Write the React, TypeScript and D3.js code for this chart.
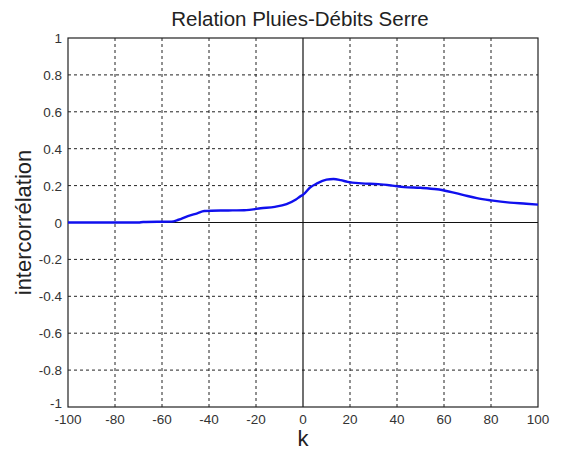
import React, { useRef, useEffect } from "react";
import * as d3 from "d3";

// lag values
const kValues = [-100, -70, -68, -56, -53, -49, -45, -42, -35, -25, -22, -18, -12, -7, -3, -1, 0, 3, 6, 10, 13, 16, 19, 25, 32, 38, 43, 50, 57, 62, 68, 74, 80, 88, 95, 100];
const corrValues = [0, 0, 0.003, 0.005, 0.015, 0.035, 0.05, 0.062, 0.065, 0.066, 0.07, 0.077, 0.085, 0.1, 0.125, 0.143, 0.15, 0.19, 0.212, 0.232, 0.236, 0.23, 0.22, 0.212, 0.208, 0.2, 0.192, 0.188, 0.18, 0.168, 0.15, 0.132, 0.12, 0.108, 0.102, 0.097];
const xTicks = [-100, -80, -60, -40, -20, 0, 20, 40, 60, 80, 100];
const yTicks = [-1, -0.8, -0.6, -0.4, -0.2, 0, 0.2, 0.4, 0.6, 0.8, 1];

const W = 565;
const H = 453;
const margin = { top: 38, right: 27, bottom: 46, left: 68 };

export default function App() {
  const svgRef = useRef<SVGSVGElement>(null);

  useEffect(() => {
    if (!svgRef.current) return;
    const svg = d3.select(svgRef.current);
    svg.selectAll("*").remove();

    const x = d3.scaleLinear().domain([-100, 100]).range([margin.left, W - margin.right]);
    const y = d3.scaleLinear().domain([-1, 1]).range([H - margin.bottom, margin.top]);
    const font = "Arial, 'Liberation Sans', sans-serif";

    svg.append("rect").attr("width", W).attr("height", H).attr("fill", "white");

    // dashed grid
    const grid = svg.append("g").attr("stroke", "#222").attr("stroke-width", 1).attr("stroke-dasharray", "3,3");
    xTicks.filter((t) => t !== -100 && t !== 100 && t !== 0).forEach((t) => {
      grid.append("line").attr("x1", x(t)).attr("x2", x(t)).attr("y1", y(1)).attr("y2", y(-1));
    });
    yTicks.filter((t) => t !== -1 && t !== 1 && t !== 0).forEach((t) => {
      grid.append("line").attr("x1", x(-100)).attr("x2", x(100)).attr("y1", y(t)).attr("y2", y(t));
    });

    // zero axes
    svg.append("line").attr("x1", x(0)).attr("x2", x(0)).attr("y1", y(1)).attr("y2", y(-1)).attr("stroke", "#111").attr("stroke-width", 1.2);
    svg.append("line").attr("x1", x(-100)).attr("x2", x(100)).attr("y1", y(0)).attr("y2", y(0)).attr("stroke", "#111").attr("stroke-width", 1.2);

    // frame
    svg.append("rect")
      .attr("x", x(-100)).attr("y", y(1))
      .attr("width", x(100) - x(-100)).attr("height", y(-1) - y(1))
      .attr("fill", "none").attr("stroke", "#222").attr("stroke-width", 1.2);

    // tick labels
    svg.append("g").selectAll("text").data(xTicks).join("text")
      .attr("x", (d) => x(d)).attr("y", y(-1) + 17)
      .attr("text-anchor", "middle").attr("font-family", font).attr("font-size", 13.5).attr("fill", "#333")
      .text((d) => d);
    svg.append("g").selectAll("text").data(yTicks).join("text")
      .attr("x", x(-100) - 6).attr("y", (d) => (d === -1 ? y(d) + 1 : y(d) + 5))
      .attr("text-anchor", "end").attr("font-family", font).attr("font-size", 13.5).attr("fill", "#333")
      .text((d) => d);

    // curve
    const pts = kValues.map((k, i) => [k, corrValues[i]] as [number, number]);
    const line = d3.line<[number, number]>().x((d) => x(d[0])).y((d) => y(d[1])).curve(d3.curveMonotoneX);
    svg.append("path").datum(pts).attr("d", line).attr("fill", "none").attr("stroke", "#1010ee").attr("stroke-width", 2.4);

    // title & labels
    svg.append("text").attr("x", 300).attr("y", 26).attr("text-anchor", "middle")
      .attr("font-family", font).attr("font-size", 20.5).attr("fill", "#222").text("Relation Pluies-Débits Serre");
    svg.append("text").attr("x", x(0)).attr("y", 446).attr("text-anchor", "middle")
      .attr("font-family", font).attr("font-size", 22).attr("fill", "#222").text("k");
    svg.append("text").attr("transform", `translate(31,${y(0)}) rotate(-90)`).attr("text-anchor", "middle")
      .attr("font-family", font).attr("font-size", 22).attr("fill", "#222").text("intercorrélation");
  }, []);

  return (
    <div style={{ position: "absolute", left: 0, top: 0 }}>
      <svg ref={svgRef} width={W} height={H} style={{ display: "block" }}></svg>
    </div>
  );
}
